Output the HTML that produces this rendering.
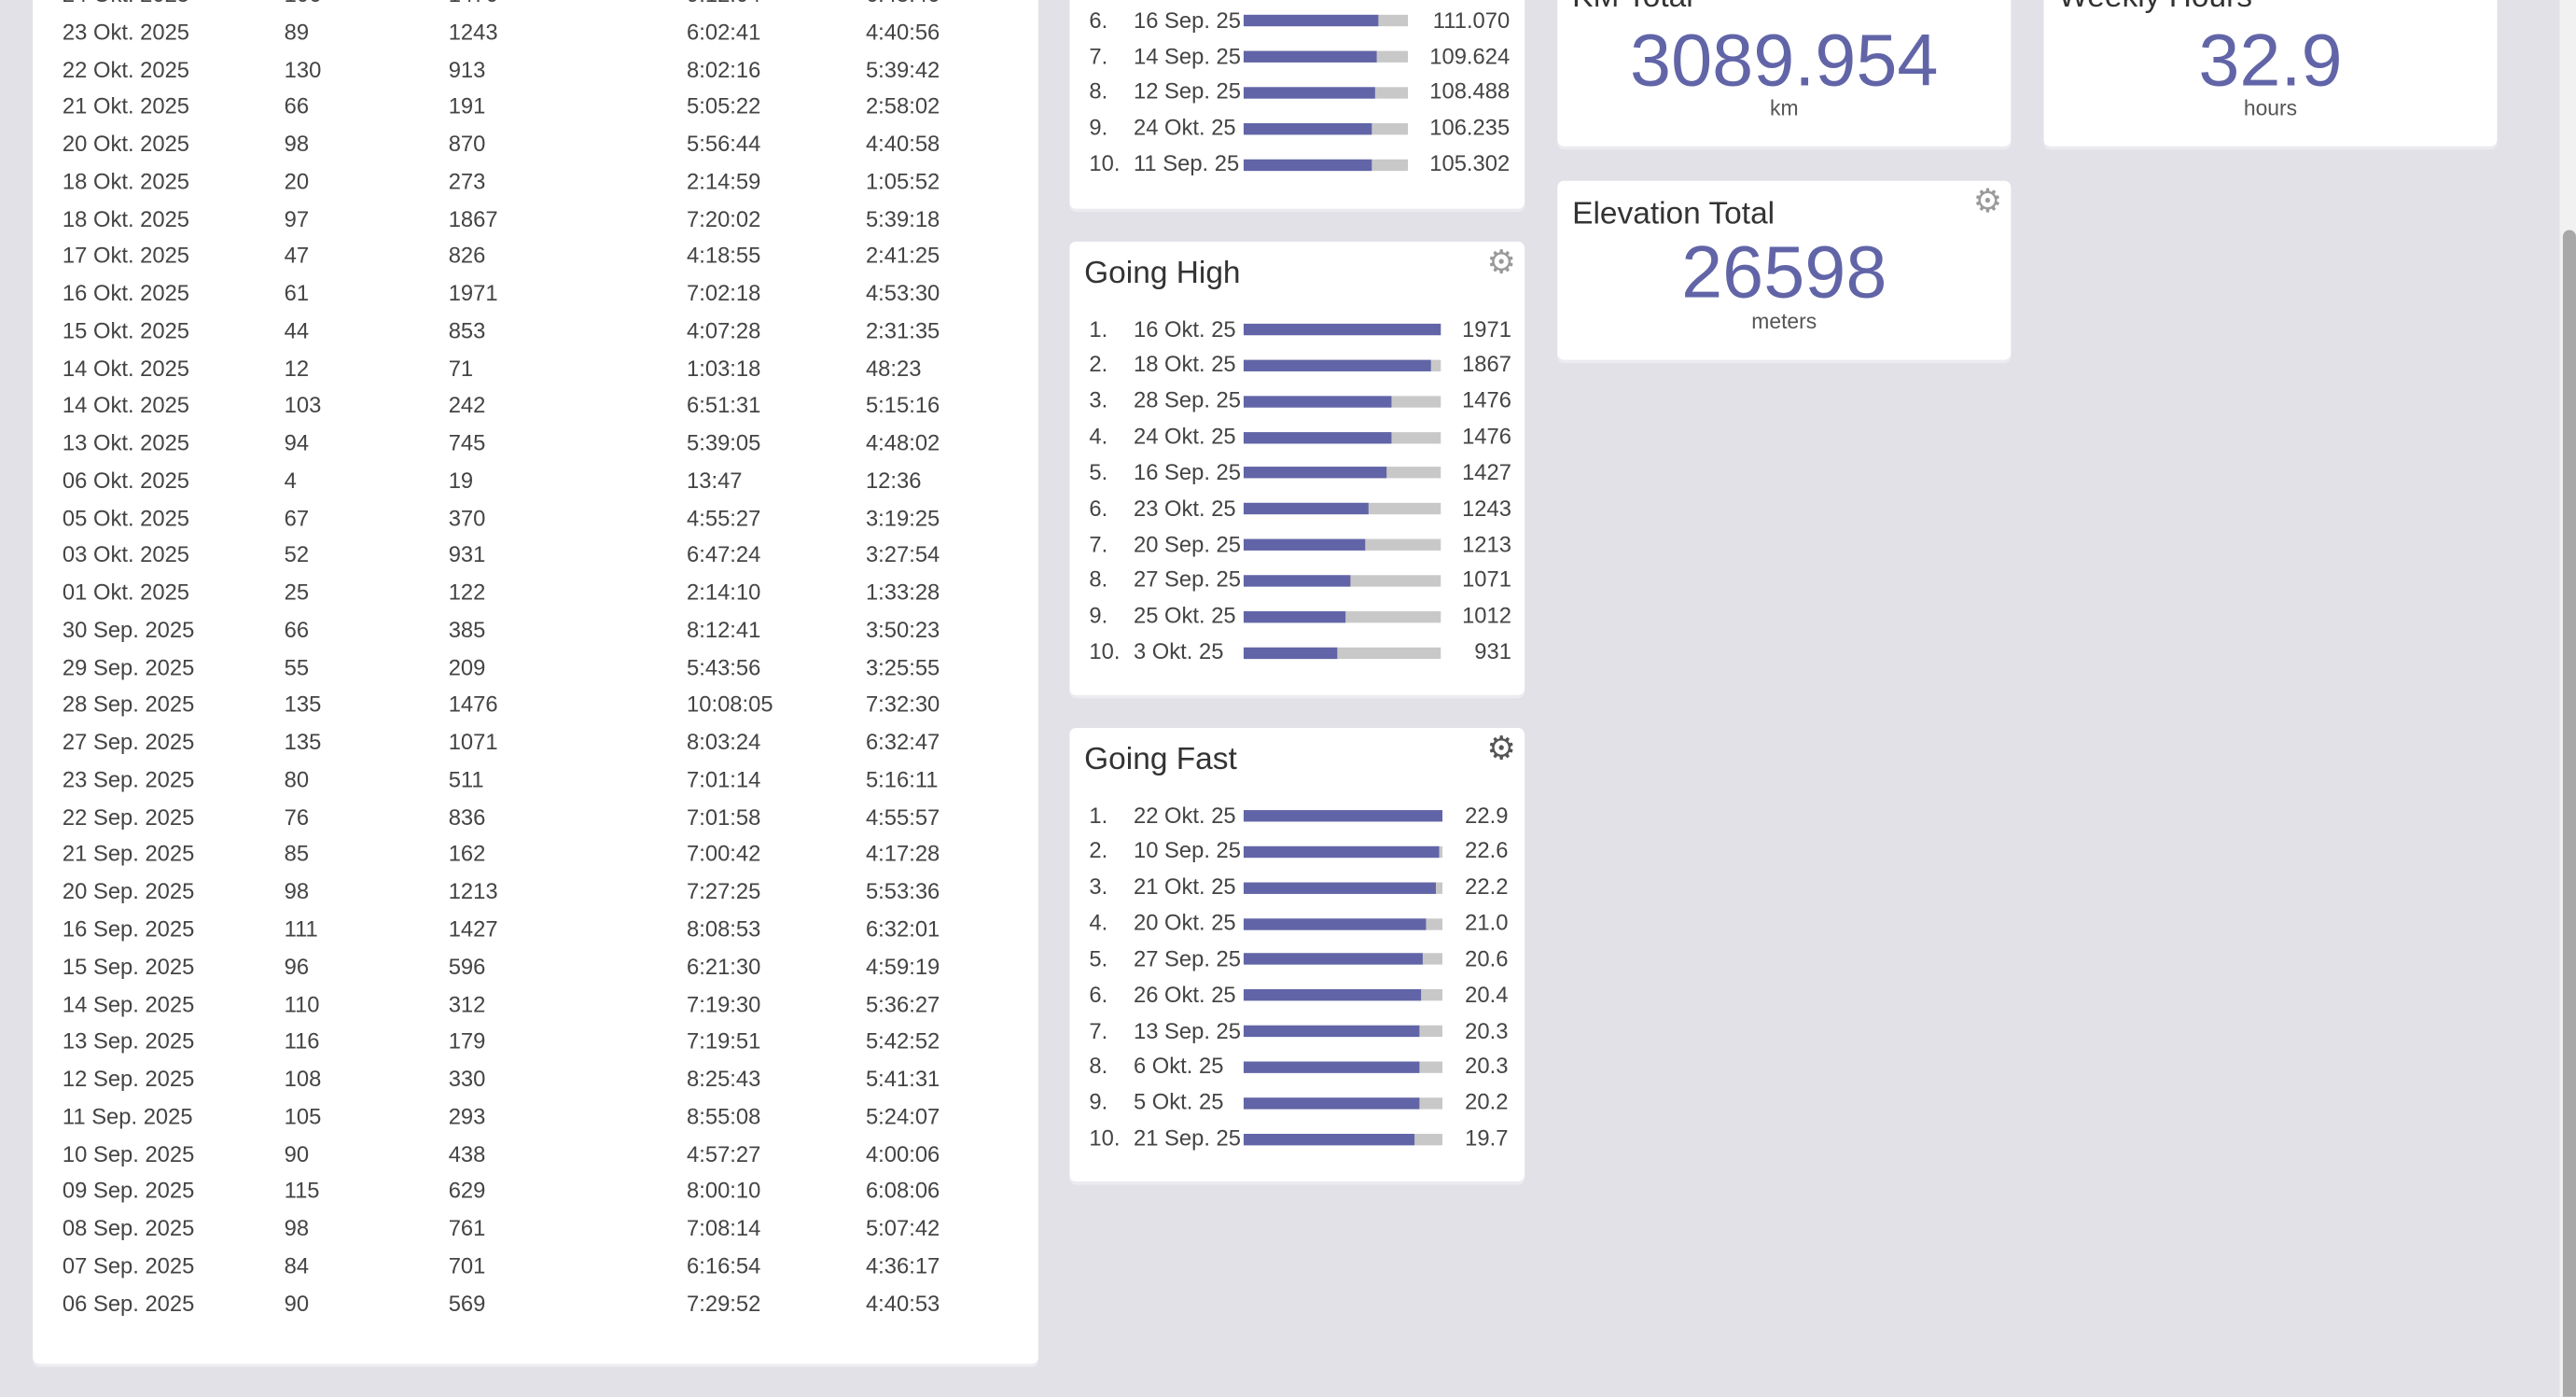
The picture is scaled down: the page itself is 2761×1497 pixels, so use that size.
<!DOCTYPE html>
<html><head><meta charset="utf-8">
<style>
html,body{margin:0;padding:0;width:2761px;height:1496px;overflow:hidden;background:#e3e1e8;}
#stage{position:absolute;left:0;top:0;width:1568px;height:850px;transform:scale(1.76084);transform-origin:0 0;font-family:"Liberation Sans",sans-serif;color:#444;}
.card{position:absolute;background:#fff;border-radius:4px;box-shadow:0 2px 0 #ecebf0;}
.t{position:absolute;white-space:nowrap;font-size:13.5px;line-height:22px;}
.title{position:absolute;font-size:19px;color:#333;white-space:nowrap;}
.gear{position:absolute;font-size:20px;color:#9a9a9a;line-height:20px;}
.big{position:absolute;left:0;right:0;text-align:center;color:#6165a7;font-size:45px;line-height:50px;}
.unit{position:absolute;left:0;right:0;text-align:center;color:#555;font-size:13px;}
.track{position:absolute;height:7px;background:#c8c8c8;}
.fill{position:absolute;left:0;top:0;height:7px;background:#6165a7;}
#scroll{position:absolute;left:1558px;top:0;width:10px;height:850px;background:#f1f1f1;}
#thumb{position:absolute;left:2px;top:140px;width:8px;height:710px;background:#a8a8a8;border-radius:4px 4px 0 0;}
</style></head><body>
<div id="stage">
  <div class="card" id="table-card" style="left:20px;top:-30px;width:612px;height:860px;"></div>

  <div class="card" id="dist-card" style="left:651px;top:-150px;width:277px;height:277px;"></div>

  <div class="card" id="high-card" style="left:651px;top:147px;width:277px;height:276px;">
    <div class="title" style="left:9px;top:9px;">Going High</div>
    <div class="gear" style="left:254px;top:3px;">⚙</div>
  </div>

  <div class="card" id="fast-card" style="left:651px;top:443px;width:277px;height:276px;">
    <div class="title" style="left:9px;top:9px;">Going Fast</div>
    <div class="gear" style="left:254px;top:3px;color:#555;">⚙</div>
  </div>

  <div class="card" style="left:948px;top:-21px;width:276px;height:110px;">
    <div class="title" style="left:9px;top:9px;">KM Total</div>
    <div class="big" style="top:33px;">3089.954</div>
    <div class="unit" style="top:79px;">km</div>
  </div>
  <div class="card" style="left:1244px;top:-21px;width:276px;height:110px;">
    <div class="title" style="left:9px;top:9px;">Weekly Hours</div>
    <div class="big" style="top:33px;">32.9</div>
    <div class="unit" style="top:79px;">hours</div>
  </div>
  <div class="card" style="left:948px;top:110px;width:276px;height:109px;">
    <div class="title" style="left:9px;top:10px;">Elevation Total</div>
    <div class="gear" style="left:253px;top:3px;">⚙</div>
    <div class="big" style="top:31px;">26598</div>
    <div class="unit" style="top:78px;">meters</div>
  </div>

  <div id="scroll"><div id="thumb"></div></div>
</div>
<script>
const tableDates=["24 Okt. 2025","23 Okt. 2025","22 Okt. 2025","21 Okt. 2025","20 Okt. 2025","18 Okt. 2025","18 Okt. 2025","17 Okt. 2025","16 Okt. 2025","15 Okt. 2025","14 Okt. 2025","14 Okt. 2025","13 Okt. 2025","06 Okt. 2025","05 Okt. 2025","03 Okt. 2025","01 Okt. 2025","30 Sep. 2025","29 Sep. 2025","28 Sep. 2025","27 Sep. 2025","23 Sep. 2025","22 Sep. 2025","21 Sep. 2025","20 Sep. 2025","16 Sep. 2025","15 Sep. 2025","14 Sep. 2025","13 Sep. 2025","12 Sep. 2025","11 Sep. 2025","10 Sep. 2025","09 Sep. 2025","08 Sep. 2025","07 Sep. 2025","06 Sep. 2025"];
const tableKm=["106","89","130","66","98","20","97","47","61","44","12","103","94","4","67","52","25","66","55","135","135","80","76","85","98","111","96","110","116","108","105","90","115","98","84","90"];
const tableElev=["1476","1243","913","191","870","273","1867","826","1971","853","71","242","745","19","370","931","122","385","209","1476","1071","511","836","162","1213","1427","596","312","179","330","293","438","629","761","701","569"];
const tableTotal=["9:12:04","6:02:41","8:02:16","5:05:22","5:56:44","2:14:59","7:20:02","4:18:55","7:02:18","4:07:28","1:03:18","6:51:31","5:39:05","13:47","4:55:27","6:47:24","2:14:10","8:12:41","5:43:56","10:08:05","8:03:24","7:01:14","7:01:58","7:00:42","7:27:25","8:08:53","6:21:30","7:19:30","7:19:51","8:25:43","8:55:08","4:57:27","8:00:10","7:08:14","6:16:54","7:29:52"];
const tableMoving=["6:45:46","4:40:56","5:39:42","2:58:02","4:40:58","1:05:52","5:39:18","2:41:25","4:53:30","2:31:35","48:23","5:15:16","4:48:02","12:36","3:19:25","3:27:54","1:33:28","3:50:23","3:25:55","7:32:30","6:32:47","5:16:11","4:55:57","4:17:28","5:53:36","6:32:01","4:59:19","5:36:27","5:42:52","5:41:31","5:24:07","4:00:06","6:08:06","5:07:42","4:36:17","4:40:53"];

const distDates=["28 Sep. 25","27 Sep. 25","22 Okt. 25","9 Sep. 25","13 Sep. 25","16 Sep. 25","14 Sep. 25","12 Sep. 25","24 Okt. 25","11 Sep. 25"];
const distValues=[135.4,134.9,129.8,115.9,115.2,111.070,109.624,108.488,106.235,105.302];
const highDates=["16 Okt. 25","18 Okt. 25","28 Sep. 25","24 Okt. 25","16 Sep. 25","23 Okt. 25","20 Sep. 25","27 Sep. 25","25 Okt. 25","3 Okt. 25"];
const highValues=[1971,1867,1476,1476,1427,1243,1213,1071,1012,931];
const fastDates=["22 Okt. 25","10 Sep. 25","21 Okt. 25","20 Okt. 25","27 Sep. 25","26 Okt. 25","13 Sep. 25","6 Okt. 25","5 Okt. 25","21 Sep. 25"];
const fastValues=[22.9,22.6,22.2,21.0,20.6,20.4,20.3,20.3,20.2,19.7];

(function(){
  const card=document.getElementById('table-card');
  const colX=[18,153,253,398,507];
  const cols=[tableDates,tableKm,tableElev,tableTotal,tableMoving];
  const names=['date-cell','km-cell','elevation-cell','total-time-cell','moving-time-cell'];
  for(let r=0;r<tableDates.length;r++){
    const cy=-3+r*22.76+30;
    for(let c=0;c<5;c++){
      const d=document.createElement('div');
      d.className='t';
      
      
      d.style.left=colX[c]+'px';
      d.style.top=(cy-11)+'px';
      d.textContent=cols[c][r];
      card.appendChild(d);
    }
  }
})();

function makeList(cardId,dates,values,startY,trackW,fmt,valRight){
  const card=document.getElementById(cardId);
  const max=Math.max(...values);
  for(let i=0;i<values.length;i++){
    const cy=startY+i*21.85;
    const rank=document.createElement('div');
    rank.className='t';
    
    
    rank.style.left='12px';rank.style.top=(cy-11)+'px';rank.textContent=(i+1)+'.';
    card.appendChild(rank);
    const dl=document.createElement('div');
    dl.className='t';
    
    
    dl.style.left='39px';dl.style.top=(cy-11)+'px';dl.textContent=dates[i];
    card.appendChild(dl);
    const tr=document.createElement('div');
    tr.className='track';
    
    
    tr.style.left='106px';tr.style.top=(cy-3.5)+'px';tr.style.width=trackW+'px';
    const f=document.createElement('div');
    f.className='fill';
    
    
    f.style.width=(values[i]/max*trackW)+'px';
    tr.appendChild(f);
    card.appendChild(tr);
    const v=document.createElement('div');
    v.className='t';
    
    
    v.style.right=valRight+'px';v.style.top=(cy-11)+'px';v.textContent=fmt(values[i]);
    card.appendChild(v);
  }
}
makeList('dist-card',distDates,distValues,150-96.5,100,v=>v.toFixed(3),9);
makeList('high-card',highDates,highValues,53.5,120,v=>String(v),8);
makeList('fast-card',fastDates,fastValues,53.5,121,v=>v.toFixed(1),10);
</script>
</body></html>
